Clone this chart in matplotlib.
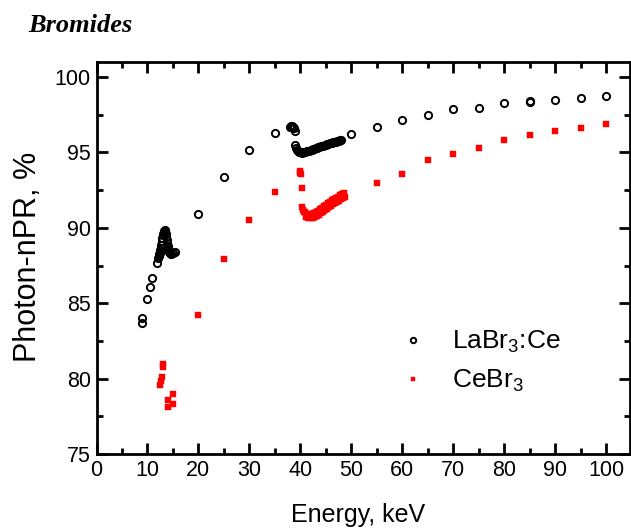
import matplotlib
matplotlib.use("Agg")
import matplotlib.pyplot as plt
from matplotlib.ticker import MultipleLocator

plt.rcParams['font.family'] = ['Liberation Sans', 'DejaVu Sans']
plt.rcParams['mathtext.fontset'] = 'custom'
plt.rcParams['mathtext.rm'] = 'Liberation Sans'
plt.rcParams['mathtext.it'] = 'Liberation Sans:italic'
plt.rcParams['mathtext.bf'] = 'Liberation Sans:bold'

# ---- data ----
la_energy = [9.0, 9.0, 10.0, 10.5, 10.9,
             11.9, 12.1, 12.2, 12.3, 12.4, 12.5, 12.6, 12.7, 12.8, 12.9, 13.0, 13.1, 13.2, 13.3, 13.4,
             13.5, 13.6, 13.7, 13.8, 13.9, 14.0, 14.1, 14.2, 14.3, 14.4, 14.5, 14.6, 14.7, 15.0, 15.5,
             20.0, 25.0, 30.0, 35.0,
             38.0, 38.2, 38.4, 38.6, 38.8, 38.9,
             39.0, 39.2, 39.4, 39.6, 39.8, 40.0, 40.25, 40.5, 40.75, 41.0, 41.25, 41.5, 41.75, 42.0,
             42.25, 42.5, 42.75, 43.0, 43.25, 43.5, 43.75, 44.0, 44.25, 44.5, 44.75, 45.0, 45.25, 45.5,
             45.75, 46.0, 46.25, 46.5, 46.75, 47.0, 47.25, 47.5, 47.75, 48.0,
             50.0, 55.0, 60.0, 65.0, 70.0, 75.0, 80.0, 85.0, 85.0, 90.0, 95.0, 100.0]
la_npr = [84.0, 83.7, 85.3, 86.1, 86.7,
          87.7, 88.0, 88.1, 88.25, 88.35, 88.5, 88.65, 88.85, 89.1, 89.35, 89.5, 89.6, 89.7, 89.8, 89.85,
          89.8, 89.6, 89.4, 89.2, 89.0, 88.8, 88.65, 88.5, 88.4, 88.35, 88.3, 88.25, 88.25, 88.3, 88.4,
          90.95, 93.4, 95.15, 96.3,
          96.7, 96.75, 96.75, 96.7, 96.6, 96.45,
          95.5, 95.3, 95.17, 95.08, 95.03, 95.0, 94.99, 95.0, 95.02, 95.04, 95.07, 95.1, 95.13, 95.16,
          95.19, 95.22, 95.25, 95.28, 95.31, 95.34, 95.37, 95.4, 95.43, 95.46, 95.49, 95.52, 95.55, 95.57,
          95.6, 95.62, 95.65, 95.67, 95.7, 95.72, 95.75, 95.77, 95.8, 95.82,
          96.2, 96.7, 97.15, 97.5, 97.86, 97.97, 98.28, 98.4, 98.35, 98.5, 98.6, 98.76]

ce_energy = [12.5, 12.6, 12.95, 13.0, 13.0, 14.0, 14.1, 15.0, 15.0,
             20.0, 25.0, 30.0, 35.0,
             39.9, 40.0, 40.1, 40.3,
             40.4, 40.6, 40.8, 41.0, 41.2, 41.4, 41.6, 41.8, 42.0, 42.2, 42.4, 42.6, 42.8, 43.0,
             43.2, 43.4, 43.6, 43.8, 44.0, 44.2, 44.4, 44.6, 44.8, 45.0, 45.2, 45.4, 45.6, 45.8, 46.0,
             46.2, 46.4, 46.6, 46.8, 47.0, 47.2, 47.4, 47.6, 47.8, 48.0, 48.2, 48.4, 48.6, 48.8,
             55.0, 60.0, 65.0, 70.0, 75.0, 80.0, 85.0, 90.0, 95.0, 100.0]
ce_npr = [79.55, 79.85, 80.1, 80.75, 81.0, 78.1, 78.6, 78.3, 79.0,
          84.25, 87.95, 90.55, 92.35,
          93.75, 93.65, 93.58, 92.66,
          91.4, 91.2, 91.05, 91.05, 90.7, 90.95, 90.63, 90.92, 90.62, 90.93, 90.65, 90.98, 90.71, 91.05,
          90.79, 91.13, 90.87, 91.22, 90.97, 91.32, 91.07, 91.42, 91.17, 91.52, 91.27, 91.62, 91.37, 91.72,
          91.47, 91.82, 91.57, 91.91, 91.65, 91.99, 91.73, 92.07, 91.81, 92.15, 91.89, 92.23, 91.97, 92.3,
          92.05,
          93.0, 93.6, 94.5, 94.92, 95.32, 95.82, 96.15, 96.4, 96.6, 96.9]

la_label = r"LaBr$_3$:Ce"
ce_label = r"CeBr$_3$"
x_label = "Energy, keV"
y_label = "Photon-nPR, %"
title = "Bromides"

fig = plt.figure(figsize=(6.31, 5.29), dpi=100)
ax = fig.add_axes([96.5 / 631, 1 - 454 / 529, (630 - 96.5) / 631, (454 - 62) / 529])

ax.plot(la_energy, la_npr, linestyle='none', marker='o', markersize=5.2, markerfacecolor='none',
        markeredgecolor='black', markeredgewidth=1.4, label=la_label, zorder=3)
ax.plot(ce_energy, ce_npr, linestyle='none', marker='s', markersize=4.4, markerfacecolor='red',
        markeredgecolor='red', markeredgewidth=0.3, label=ce_label, zorder=2)

ax.set_xlim(0, 104.7)
ax.set_ylim(75, 101)
ax.xaxis.set_major_locator(MultipleLocator(10))
ax.xaxis.set_minor_locator(MultipleLocator(5))
ax.yaxis.set_major_locator(MultipleLocator(5))
ax.yaxis.set_minor_locator(MultipleLocator(2.5))
ax.tick_params(which='both', direction='in', top=True, right=True, width=2, labelsize=15.5)
ax.tick_params(axis='x', pad=4)
ax.tick_params(axis='y', pad=4)
ax.tick_params(which='major', length=8)
ax.tick_params(which='minor', length=4)
for s in ax.spines.values():
    s.set_linewidth(2)

ax.set_xlabel(x_label, fontsize=18, va='center')
ax.xaxis.set_label_coords((358 - 96.5) / 533.5, -(515 - 454) / 392)
ax.set_ylabel(y_label, fontsize=22, va='center')
ax.yaxis.set_label_coords(-(96.5 - 28) / 533.5, (454 - 257) / 392)

fig.text(28 / 631, 1 - 25 / 529, title, fontsize=19, fontweight='bold', fontstyle='italic',
         family='Liberation Serif', va='center', ha='left')

leg = ax.legend(loc='upper left', bbox_to_anchor=(0.568, 0.319), frameon=False, fontsize=19,
                markerscale=0.75, handletextpad=1.0, labelspacing=0.49, handlelength=1.0,
                borderpad=0, borderaxespad=0)

fig.savefig("out.png", dpi=100)
